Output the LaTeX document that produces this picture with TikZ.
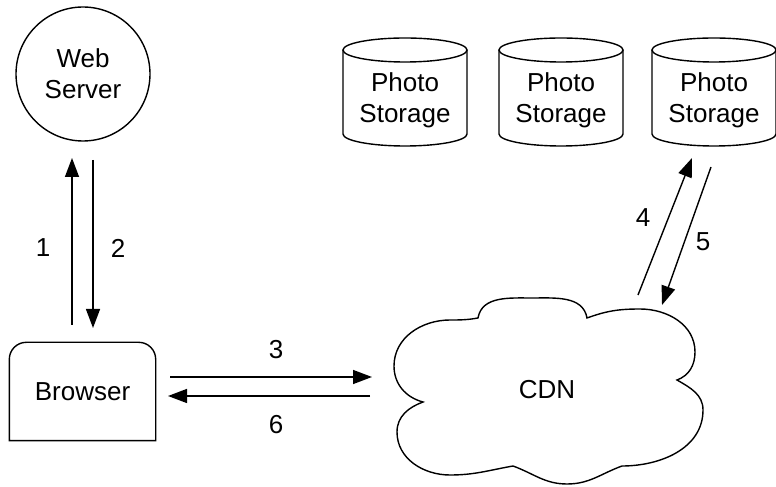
\documentclass[tikz,border=0pt]{standalone}
\usepackage{fontspec}
\setmainfont{Liberation Sans}
\usetikzlibrary{arrows.meta}
\begin{document}
\begin{tikzpicture}[x=1pt,y=1pt,
  line width=1.4pt,
  lbl/.style={font=\fontsize{26}{31}\selectfont, align=center, inner sep=0pt},
  conn/.style={-{Triangle[length=19pt,width=14pt]}},
]
\useasboundingbox (0,0) rectangle (776,487);

% Web server
\node[lbl, circle, draw, minimum size=134pt] (web) at (83,413) {Web\\Server};

% Browser
\node[lbl, minimum width=145pt, minimum height=97pt] (browser) at (82.5,95.5) {Browser};
\draw (browser.south east) -- (browser.south west) [rounded corners=17pt]-- (browser.north west) -- (browser.north east) [sharp corners]-- (browser.south east) -- cycle;

% Photo storages
\foreach \cx/\nm in {405/psa,561/psb,714/psc} {
  \node[lbl] (\nm) at (\cx,387) {Photo\\Storage};
  \draw (\cx-62,437) -- (\cx-62,353) arc[start angle=180,end angle=360,x radius=62,y radius=12] -- (\cx+62,437);
  \draw (\cx,437) ellipse[x radius=62,y radius=12];
}

% CDN cloud
\node[lbl] (cdn) at (547,97) {CDN};
\draw (423,85) to[out=165,in=270] (394,121) to[out=90,in=180] (450,167) to[out=0,in=190] (478,169)
  to[out=80,in=180] (532,189) to[out=0,in=100] (587,169)
  to[out=20,in=180] (640,178) to[out=0,in=90] (695,135) to[out=270,in=20] (677,107)
  to[out=-30,in=90] (703,77) to[out=270,in=0] (622,21)
  to[out=200,in=0] (567,3) to[out=180,in=-20] (513,21)
  to[out=190,in=0] (450,12) to[out=180,in=270] (397,55) to[out=90,in=200] (423,85) -- cycle;

% connector endpoints
\coordinate (a1s) at (72,162);  \coordinate (a1e) at (72,329);
\coordinate (a2s) at (93,327);  \coordinate (a2e) at (93,159);
\coordinate (a3s) at (170,110); \coordinate (a3e) at (372,110);
\coordinate (a6s) at (370,91);  \coordinate (a6e) at (168,91);
\coordinate (a4s) at (638,192); \coordinate (a4e) at (692,329);
\coordinate (a5s) at (711,320); \coordinate (a5e) at (662,182);

\draw[conn] (a1s) -- (a1e);
\draw[conn] (a2s) -- (a2e);
\draw[conn] (a3s) -- (a3e);
\draw[conn] (a6s) -- (a6e);
\draw[conn] (a4s) -- (a4e);
\draw[conn] (a5s) -- (a5e);

% labels
\node[lbl] (l1) at (43,239) {1};
\node[lbl] (l2) at (118,239) {2};
\node[lbl] (l3) at (276,137) {3};
\node[lbl] (l6) at (276,62) {6};
\node[lbl] (l4) at (643,269) {4};
\node[lbl] (l5) at (703,245) {5};
\end{tikzpicture}
\end{document}
